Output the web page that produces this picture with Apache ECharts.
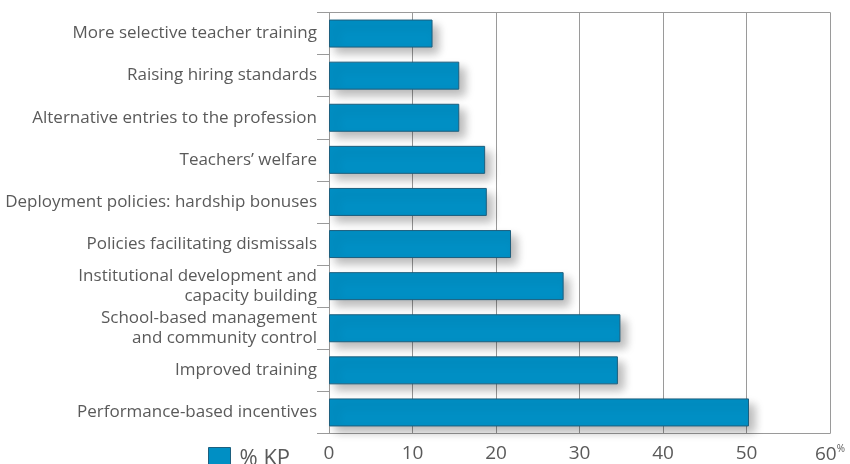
<!DOCTYPE html>
<html>
<head>
<meta charset="utf-8">
<script src="https://cdn.jsdelivr.net/npm/echarts@6/dist/echarts.min.js"></script>
<style>
  html, body { margin: 0; padding: 0; background: #fff; }
  #chart { width: 850px; height: 464px; }
</style>
</head>
<body>
<div id="chart"></div>
<script>
// categories, top to bottom
const categories = [
  'More selective teacher training',
  'Raising hiring standards',
  'Alternative entries to the profession',
  'Teachers\u2019 welfare',
  'Deployment policies: hardship bonuses',
  'Policies facilitating dismissals',
  'Institutional development and\ncapacity building',
  'School-based management\nand community control',
  'Improved training',
  'Performance-based incentives'
];
// % KP values
const kpValues = [12.4, 15.6, 15.6, 18.7, 18.9, 21.8, 28.1, 34.9, 34.6, 50.3];
const xTicks = [0, 10, 20, 30, 40, 50, 60];

const chart = echarts.init(document.getElementById('chart'));

const labelColor = '#5a5a5a';
const lineColor = '#9a9a9a';

const option = {
  animation: false,
  textStyle: { fontFamily: 'Open Sans' },
  grid: { left: 329, right: 20, top: 12.5, bottom: 30 },
  legend: {
    data: ['% KP'],
    left: 203,
    top: 442,
    icon: 'rect',
    itemWidth: 22,
    itemHeight: 22,
    itemGap: 10,
    textStyle: { fontSize: 22, color: labelColor, padding: [0, 0, 0, 4] },
    itemStyle: { borderColor: '#1d5f7e', borderWidth: 1 }
  },
  xAxis: [
    {
      type: 'value',
      min: 0,
      max: 60,
      interval: 10,
      position: 'bottom',
      axisLine: { show: true, lineStyle: { color: lineColor } },
      axisTick: { show: false },
      splitLine: { show: true, lineStyle: { color: lineColor, width: 1 } },
      axisLabel: {
        margin: 11,
        fontSize: 19,
        color: labelColor,
        formatter: function (v) {
          return v === xTicks[xTicks.length - 1] ? v + '{sup|%}' : String(v);
        },
        rich: {
          sup: { fontSize: 10, color: labelColor, verticalAlign: 'top', padding: [0, 0, 10, 0] }
        }
      }
    },
    {
      type: 'value',
      min: 0,
      max: 60,
      position: 'top',
      axisLine: { show: true, lineStyle: { color: lineColor } },
      axisTick: { show: false },
      axisLabel: { show: false },
      splitLine: { show: false }
    }
  ],
  yAxis: {
    type: 'category',
    inverse: true,
    data: categories,
    axisLine: { show: true, lineStyle: { color: lineColor } },
    axisTick: { show: true, length: 12, lineStyle: { color: lineColor } },
    axisLabel: {
      margin: 12,
      fontSize: 17,
      lineHeight: 20,
      color: labelColor,
      align: 'right'
    }
  },
  series: [
    {
      name: '% KP',
      type: 'bar',
      data: kpValues,
      barWidth: 28,
      itemStyle: {
        color: '#008fc4',
        borderColor: '#1d5f7e',
        borderWidth: 1,
        shadowColor: 'rgba(0,0,0,0.28)',
        shadowBlur: 10,
        shadowOffsetX: 6,
        shadowOffsetY: 6
      }
    }
  ]
};

chart.setOption(option);
window.addEventListener('resize', () => chart.resize());
</script>
</body>
</html>
